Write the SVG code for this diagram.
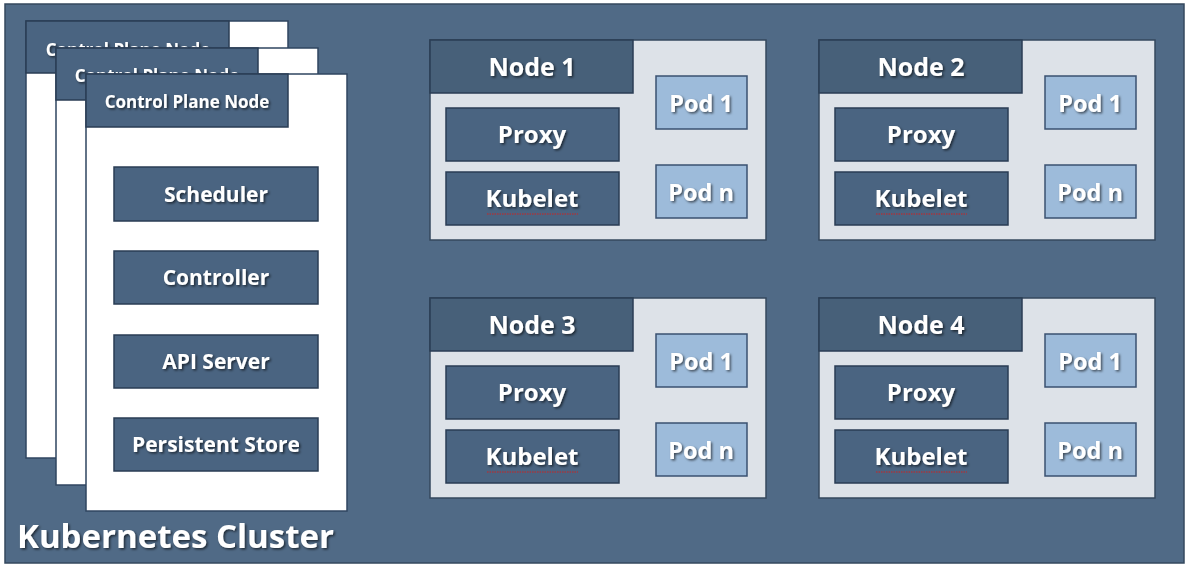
<svg xmlns="http://www.w3.org/2000/svg" width="1195" height="570" viewBox="0 0 1195 570">
<defs>
<filter id="sh" x="-10%" y="-30%" width="130%" height="160%">
<feDropShadow dx="1.5" dy="1.5" stdDeviation="1" flood-color="#000" flood-opacity="0.6"/>
</filter>
<style>
.cluster{fill:#506a86;stroke:#34485e;stroke-width:1.5}
.cp{fill:#ffffff;stroke:#2f4560;stroke-width:1.5}
.hdr{fill:#4a6481;stroke:#2a3d54;stroke-width:1.5}
.box{fill:#4a6481;stroke:#2a3d54;stroke-width:1.5}
.panel{fill:#dde2e8;stroke:#34485e;stroke-width:1.5}
.nhdr{fill:#476079;stroke:#2a3d54;stroke-width:1.5}
.pod{fill:#9dbbda;stroke:#3a5170;stroke-width:1.5}
text{font-family:"Open Sans","Liberation Sans",sans-serif;font-weight:bold;fill:#ffffff;text-anchor:middle;filter:url(#sh)}
.t16{font-size:17px}
.t20{font-size:21px}
.t24{font-size:24px}
.t25{font-size:25px}
.tp{font-size:23.5px}
.t32{font-size:33px;text-anchor:start}
.sq{fill:none;stroke:#d02020;stroke-width:1.2;stroke-dasharray:1.5 1}
</style>
</defs>
<g id="cluster">
<rect class="cluster" x="5" y="4" width="1179" height="559"/>
<text class="t32" x="17" y="548">Kubernetes Cluster</text>
</g>
<g id="cp-back2">
<rect class="cp" x="26" y="21" width="262" height="437"/>
<rect class="hdr" x="26" y="21" width="203" height="52"/>
<text class="t16" x="128" y="56">Control Plane Node</text>
</g>
<g id="cp-back1">
<rect class="cp" x="56" y="48" width="262" height="437"/>
<rect class="hdr" x="56" y="48" width="202" height="52"/>
<text class="t16" x="157" y="82">Control Plane Node</text>
</g>
<g id="cp-front">
<rect class="cp" x="86" y="74" width="261" height="437"/>
<rect class="hdr" x="86" y="74" width="202" height="53"/>
<text class="t16" x="187" y="108">Control Plane Node</text>
<g id="scheduler"><rect class="box" x="114" y="167" width="204" height="54"/><text class="t20" x="216" y="202">Scheduler</text></g>
<g id="controller"><rect class="box" x="114" y="251" width="204" height="53"/><text class="t20" x="216" y="285">Controller</text></g>
<g id="apiserver"><rect class="box" x="114" y="335" width="204" height="53"/><text class="t20" x="216" y="369">API Server</text></g>
<g id="store"><rect class="box" x="114" y="418" width="204" height="53"/><text class="t20" x="216" y="452">Persistent Store</text></g>
</g>
<g id="node1">
<rect class="panel" x="430" y="40" width="336" height="200"/>
<rect class="nhdr" x="430" y="40" width="203" height="53"/>
<text class="t25" x="532" y="76">Node 1</text>
<rect class="box" x="446" y="108" width="173" height="53"/><text class="t24" x="532" y="143">Proxy</text>
<rect class="box" x="446" y="172" width="173" height="53"/><text class="t24" x="532" y="207">Kubelet</text>
<path class="sq" d="M487 214 H578"/>
<rect class="pod" x="656" y="76" width="91" height="53"/><text class="tp" x="701" y="112">Pod 1</text>
<rect class="pod" x="656" y="165" width="91" height="53"/><text class="tp" x="701" y="201">Pod n</text>
</g>
<g id="node2" transform="translate(389,0)">
<rect class="panel" x="430" y="40" width="336" height="200"/>
<rect class="nhdr" x="430" y="40" width="203" height="53"/>
<text class="t25" x="532" y="76">Node 2</text>
<rect class="box" x="446" y="108" width="173" height="53"/><text class="t24" x="532" y="143">Proxy</text>
<rect class="box" x="446" y="172" width="173" height="53"/><text class="t24" x="532" y="207">Kubelet</text>
<path class="sq" d="M487 214 H578"/>
<rect class="pod" x="656" y="76" width="91" height="53"/><text class="tp" x="701" y="112">Pod 1</text>
<rect class="pod" x="656" y="165" width="91" height="53"/><text class="tp" x="701" y="201">Pod n</text>
</g>
<g id="node3" transform="translate(0,258)">
<rect class="panel" x="430" y="40" width="336" height="200"/>
<rect class="nhdr" x="430" y="40" width="203" height="53"/>
<text class="t25" x="532" y="76">Node 3</text>
<rect class="box" x="446" y="108" width="173" height="53"/><text class="t24" x="532" y="143">Proxy</text>
<rect class="box" x="446" y="172" width="173" height="53"/><text class="t24" x="532" y="207">Kubelet</text>
<path class="sq" d="M487 214 H578"/>
<rect class="pod" x="656" y="76" width="91" height="53"/><text class="tp" x="701" y="112">Pod 1</text>
<rect class="pod" x="656" y="165" width="91" height="53"/><text class="tp" x="701" y="201">Pod n</text>
</g>
<g id="node4" transform="translate(389,258)">
<rect class="panel" x="430" y="40" width="336" height="200"/>
<rect class="nhdr" x="430" y="40" width="203" height="53"/>
<text class="t25" x="532" y="76">Node 4</text>
<rect class="box" x="446" y="108" width="173" height="53"/><text class="t24" x="532" y="143">Proxy</text>
<rect class="box" x="446" y="172" width="173" height="53"/><text class="t24" x="532" y="207">Kubelet</text>
<path class="sq" d="M487 214 H578"/>
<rect class="pod" x="656" y="76" width="91" height="53"/><text class="tp" x="701" y="112">Pod 1</text>
<rect class="pod" x="656" y="165" width="91" height="53"/><text class="tp" x="701" y="201">Pod n</text>
</g>
<g id="connectors"></g>
</svg>
